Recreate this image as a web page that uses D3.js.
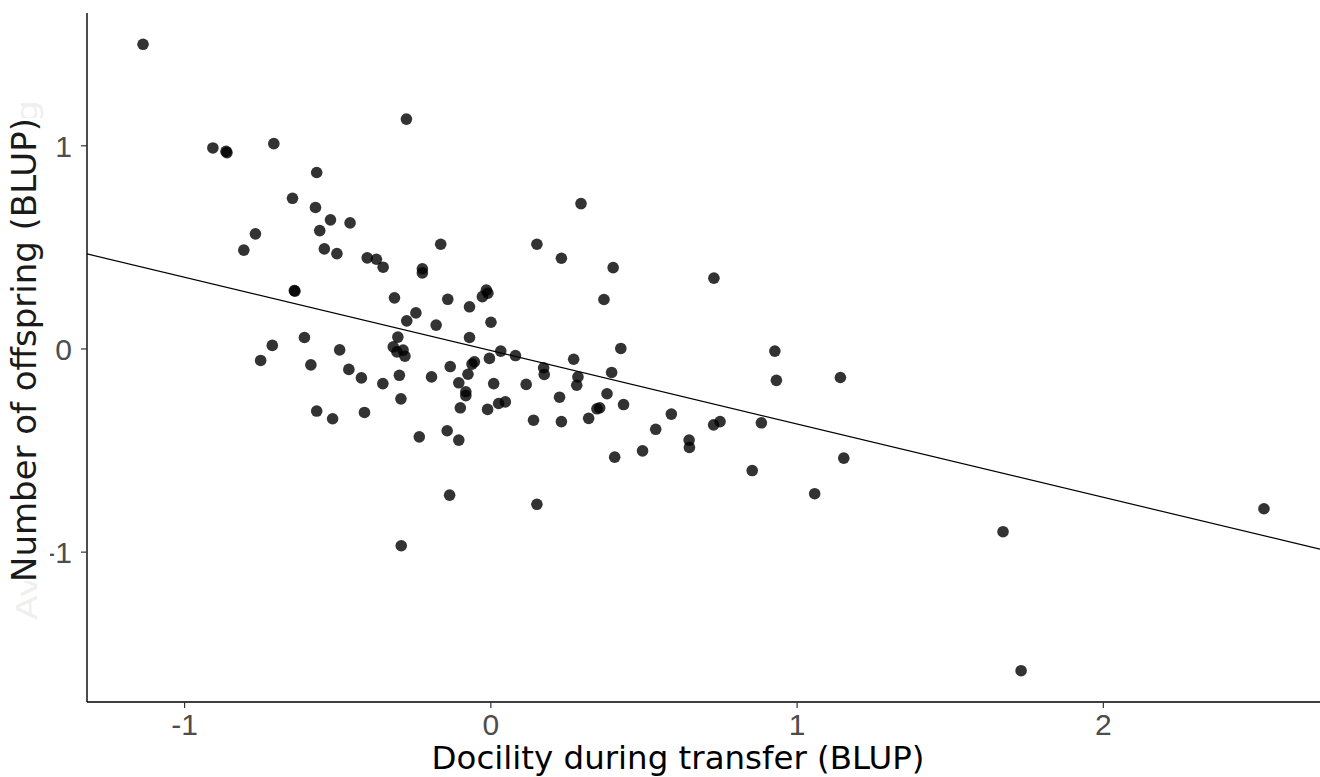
<!DOCTYPE html>
<html>
<head>
<meta charset="utf-8">
<script src="https://cdn.jsdelivr.net/npm/d3@7"></script>
<style>
  body { margin: 0; background: #fff; }
  svg { display: block; }
</style>
</head>
<body>
<div id="chart"></div>
<script>
// Data
var docility = [
  -1.134, -0.906, -0.860, -0.863, -0.707, -0.274, -0.567, -0.646, -0.571, -0.522,
  -0.458, -0.557, -0.767, -0.805, -0.542, -0.501, -0.402, -0.372, -0.350, -0.222,
  -0.222, -0.162, -0.640, -0.638, -0.313, -0.243, -0.273, -0.177, -0.139, -0.607,
  -0.712, -0.492, -0.302, -0.317, -0.305, -0.285, -0.279, -0.750, -0.586, -0.462,
  -0.421, -0.351, -0.297, -0.192, -0.131, -0.068, -0.013, -0.008, -0.026, 0.002,
  -0.068, -0.052, -0.060, -0.003, 0.034, 0.082, -0.073, -0.103, -0.080, -0.080,
  0.011, -0.098, -0.009, 0.027, 0.049, -0.292, -0.567, -0.515, -0.411, -0.232,
  -0.141, -0.103, -0.133, -0.291, 0.152, 0.296, 0.152, 0.232, 0.401, 0.371,
  0.730, 0.426, 0.929, 1.143, 0.934, 0.272, 0.174, 0.176, 0.286, 0.282,
  0.396, 0.117, 0.226, 0.381, 0.435, 0.348, 0.357, 0.321, 0.141, 0.232,
  0.591, 0.540, 0.729, 0.750, 0.885, 0.649, 0.650, 0.406, 0.497, 0.855,
  1.154, 1.059, 2.526, 1.674, 1.733
];
var offspring = [
  1.497, 0.987, 0.964, 0.970, 1.008, 1.129, 0.866, 0.739, 0.694, 0.633,
  0.618, 0.580, 0.564, 0.484, 0.490, 0.467, 0.446, 0.439, 0.400, 0.392,
  0.372, 0.513, 0.285, 0.282, 0.249, 0.175, 0.136, 0.115, 0.242, 0.054,
  0.015, -0.007, 0.056, 0.008, -0.017, -0.008, -0.038, -0.059, -0.081, -0.103,
  -0.145, -0.173, -0.132, -0.140, -0.089, 0.205, 0.287, 0.272, 0.255, 0.129,
  0.054, -0.066, -0.077, -0.049, -0.013, -0.035, -0.127, -0.169, -0.213, -0.232,
  -0.173, -0.292, -0.300, -0.271, -0.263, -0.248, -0.308, -0.346, -0.315, -0.435,
  -0.405, -0.451, -0.722, -0.971, -0.767, 0.713, 0.513, 0.444, 0.398, 0.241,
  0.346, 0.000, -0.013, -0.143, -0.157, -0.053, -0.095, -0.128, -0.140, -0.181,
  -0.118, -0.177, -0.240, -0.223, -0.276, -0.297, -0.292, -0.344, -0.353, -0.360,
  -0.323, -0.398, -0.376, -0.360, -0.366, -0.451, -0.487, -0.535, -0.504, -0.601,
  -0.540, -0.715, -0.789, -0.902, -1.586
];
// fitted line: offspring = intercept + slope * docility
var fitIntercept = -0.010;
var fitSlope = -0.361;

var xTicks = [-1, 0, 1, 2];
var yTicks = [-1, 0, 1];

var xTitle = "Docility during transfer (BLUP)";
var yTitle = "Number of offspring (BLUP)";
var ghostTitle = "Average number of offspring";

// Layout
var W = 1320, H = 777;
var margin = {top: 13, right: 0, bottom: 75, left: 87};
var width = W - margin.left - margin.right;
var height = H - margin.top - margin.bottom;

var data = docility.map(function(d, i) { return {x: d, y: offspring[i]}; });

function expand(ext) {
    var pad = (ext[1] - ext[0]) * 0.05;
    return [ext[0] - pad, ext[1] + pad];
}

var x = d3.scaleLinear()
    .domain(expand(d3.extent(docility)))
    .range([0, width]);
var y = d3.scaleLinear()
    .domain(expand(d3.extent(offspring)))
    .range([height, 0]);

var svg = d3.select("#chart").append("svg")
    .attr("width", W)
    .attr("height", H);

var g = svg.append("g")
    .attr("transform", "translate(" + margin.left + "," + margin.top + ")");

// Points
g.append("g").selectAll("circle")
    .data(data)
    .enter().append("circle")
      .attr("cx", function(d) { return x(d.x); })
      .attr("cy", function(d) { return y(d.y); })
      .attr("r", 5.8)
      .style("fill", "#000")
      .style("fill-opacity", 0.8);

// Regression line across the full panel
var xd = x.domain();
var valueline = d3.line()
    .x(function(d) { return x(d); })
    .y(function(d) { return y(fitIntercept + fitSlope * d); });
g.append("path")
    .attr("d", valueline(xd))
    .style("fill", "none")
    .style("stroke", "#000")
    .style("stroke-width", 1.2);

// Axes (plain hyphen for negatives, like the original)
var fmt = function(d) { return String(d); };
var xAxis = d3.axisBottom(x).tickValues(xTicks).tickSize(6).tickPadding(6).tickFormat(fmt);
var yAxis = d3.axisLeft(y).tickValues(yTicks).tickSize(6).tickPadding(9).tickFormat(fmt);

var gx = g.append("g")
    .attr("transform", "translate(0," + height + ")")
    .call(xAxis);
var gy = g.append("g").call(yAxis);

[gx, gy].forEach(function(ax) {
    ax.select(".domain").attr("stroke", "#000").attr("stroke-width", 1.4);
    ax.selectAll(".tick line").attr("stroke", "#333").attr("stroke-width", 1.2);
    ax.selectAll(".tick text")
        .attr("fill", "#4d4d4d")
        .style("font-family", "'Liberation Sans', Arial, sans-serif")
        .style("font-size", "30px");
});
gy.selectAll(".tick text").attr("dy", "0.36em");
gx.select(".domain").attr("d", "M0,0H" + width);
gy.select(".domain").attr("d", "M0,0V" + height);

// fit text to a target width
function fitText(sel, target) {
    var len = sel.node().getComputedTextLength();
    var fs = parseFloat(sel.style("font-size"));
    sel.style("font-size", (fs * target / len) + "px");
}

// Faint leftover title behind the y title
svg.append("text")
    .attr("transform", "translate(37,360) rotate(-90)")
    .attr("text-anchor", "middle")
    .attr("textLength", 520)
    .attr("lengthAdjust", "spacingAndGlyphs")
    .style("font-family", "'DejaVu Sans', sans-serif")
    .style("font-size", "29px")
    .style("fill", "#efefef")
    .text(ghostTitle);

svg.append("rect")
    .attr("x", 0).attr("y", 118)
    .attr("width", 50).attr("height", 463)
    .style("fill", "#fff");

var yt = svg.append("text")
    .attr("transform", "translate(36,350) rotate(-90)")
    .attr("text-anchor", "middle")
    .style("font-family", "'DejaVu Sans', sans-serif")
    .style("font-size", "29px")
    .style("fill", "#1a1a1a")
    .text(yTitle);
fitText(yt, 464);

var xt = svg.append("text")
    .attr("x", 678)
    .attr("y", 769)
    .attr("text-anchor", "middle")
    .style("font-family", "'DejaVu Sans', sans-serif")
    .style("font-size", "29px")
    .style("fill", "#000")
    .text(xTitle);
fitText(xt, 493);
</script>
</body>
</html>
